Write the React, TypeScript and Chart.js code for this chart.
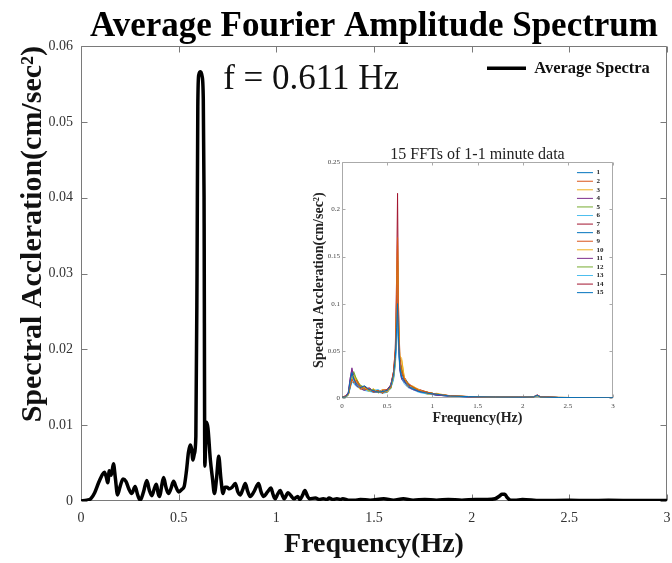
import React, { useEffect, useRef } from 'react';
import { Chart, registerables } from 'chart.js';

Chart.register(...registerables);

const SERIF = '"Liberation Serif", "Times New Roman", serif';

// ---------- main chart data ----------
const chartTitle = 'Average Fourier Amplitude Spectrum';
const seriesLabel = 'Average Spectra';
const xAxisTitle = 'Frequency(Hz)';
const yAxisTitle = 'Spectral Accleration(cm/sec\u00B2)';
const peakLabel = 'f = 0.611 Hz';
const peakLabelFreq = 0.728;
const peakLabelAmp = 0.0543;

const mainXTickLabels = ['0', '0.5', '1', '1.5', '2', '2.5', '3'];
const mainYTickLabels = ['0', '0.01', '0.02', '0.03', '0.04', '0.05', '0.06'];

const avgFreq = [
  0, 0.03, 0.05, 0.07, 0.09, 0.11, 0.12, 0.13, 0.137, 0.145,
  0.155, 0.166, 0.176, 0.187, 0.2, 0.215, 0.23, 0.245, 0.26, 0.277,
  0.29, 0.303, 0.32, 0.337, 0.35, 0.363, 0.375, 0.386, 0.395, 0.403,
  0.413, 0.423, 0.435, 0.448, 0.46, 0.474, 0.487, 0.5, 0.515, 0.528,
  0.54, 0.55, 0.559, 0.566, 0.573, 0.58, 0.588, 0.594, 0.598, 0.603,
  0.612, 0.62, 0.626, 0.63, 0.634, 0.638, 0.643, 0.65, 0.662, 0.673,
  0.683, 0.694, 0.705, 0.716, 0.727, 0.737, 0.747, 0.76, 0.773, 0.79,
  0.803, 0.815, 0.828, 0.841, 0.853, 0.866, 0.885, 0.909, 0.922, 0.935,
  0.955, 0.972, 0.984, 0.994, 1.007, 1.02, 1.03, 1.04, 1.06, 1.075,
  1.09, 1.11, 1.12, 1.135, 1.146, 1.16, 1.17, 1.2, 1.22, 1.24,
  1.26, 1.27, 1.29, 1.31, 1.33, 1.34, 1.37, 1.4, 1.43, 1.48,
  1.55, 1.6, 1.65, 1.7, 1.76, 1.82, 1.88, 1.95, 2.02, 2.08,
  2.12, 2.145, 2.155, 2.17, 2.18, 2.2, 2.22, 2.26, 2.35, 2.5,
  2.6, 2.7, 2.85, 3.0,
];

const avgAmp = [
  0, 0.0001, 0.0003, 0.0011, 0.0024, 0.0035, 0.0038, 0.0031, 0.0024, 0.004,
  0.0034, 0.0049, 0.003, 0.0008, 0.0019, 0.0029, 0.0026, 0.0016, 0.001, 0.0019,
  0.0008, 0.0001, 0.0012, 0.0027, 0.0014, 0.0007, 0.0016, 0.0022, 0.001, 0.0006,
  0.002, 0.0031, 0.0018, 0.001, 0.0016, 0.0026, 0.0018, 0.0012, 0.0015, 0.0019,
  0.004, 0.0064, 0.0074, 0.0069, 0.0054, 0.0062, 0.0085, 0.03, 0.052, 0.0562,
  0.0566, 0.056, 0.053, 0.04, 0.0046, 0.0075, 0.0104, 0.0096, 0.0055, 0.003,
  0.001, 0.003, 0.0059, 0.003, 0.001, 0.0018, 0.0018, 0.0016, 0.0018, 0.0023,
  0.0012, 0.0008, 0.0015, 0.0023, 0.0013, 0.0006, 0.0012, 0.0023, 0.0012, 0.0006,
  0.0012, 0.0017, 0.0008, 0.0003, 0.0009, 0.0014, 0.0008, 0.0003, 0.0011, 0.0007,
  0.0003, 0.0006, 0.0002, 0.0008, 0.0014, 0.0006, 0.0003, 0.0004, 0.0002, 0.0003,
  0.0002, 0.0004, 0.0002, 0.0003, 0.0002, 0.0003, 0.0001, 0.0001, 0.0002, 0.0001,
  0.0003, 0.0001, 0.0003, 0.0001, 0.0002, 0.0001, 0.0002, 0.0001, 0.0002, 0.0002,
  0.0003, 0.0007, 0.0009, 0.0009, 0.0005, 0.0001, 0.0001, 0.0002, 0.00005, 0.0001,
  0.00005, 0.0001, 0.00005, 0.00005,
];

// ---------- inset chart data ----------
const insetTitle = '15 FFTs of 1-1 minute data';
const insetXTickLabels = ['0', '0.5', '1', '1.5', '2', '2.5', '3'];
const insetYTickLabels = ['0', '0.05', '0.1', '0.15', '0.2', '0.25'];
const insetLabels = ['1', '2', '3', '4', '5', '6', '7', '8', '9', '10', '11', '12', '13', '14', '15'];
const insetColors = [
  '#0072BD', '#D95319', '#EDB120', '#7E2F8E', '#77AC30', '#4DBEEE', '#A2142F',
  '#0072BD', '#D95319', '#EDB120', '#7E2F8E', '#77AC30', '#4DBEEE', '#A2142F', '#0072BD',
];

const insetFreq = [
  0, 0.04, 0.07, 0.09, 0.11, 0.13, 0.16, 0.2, 0.25, 0.3,
  0.35, 0.4, 0.45, 0.5, 0.54, 0.57, 0.59, 0.605, 0.615, 0.625,
  0.64, 0.66, 0.69, 0.73, 0.78, 0.85, 0.95, 1.05, 1.2, 1.4,
  1.7, 2.0, 2.12, 2.16, 2.2, 2.4, 2.7, 3.0,
];

const fft1 = [0.001, 0.001, 0.005, 0.018, 0.027, 0.02, 0.015, 0.011, 0.013, 0.009, 0.008, 0.006, 0.007, 0.008, 0.013, 0.024, 0.042, 0.075, 0.1, 0.065, 0.032, 0.022, 0.018, 0.013, 0.01, 0.007, 0.005, 0.004, 0.002, 0.0015, 0.001, 0.0008, 0.0012, 0.0028, 0.001, 0.0005, 0.0004, 0.0003];
const fft2 = [0.001, 0.002, 0.004, 0.012, 0.02, 0.016, 0.019, 0.012, 0.009, 0.01, 0.006, 0.008, 0.005, 0.009, 0.011, 0.028, 0.05, 0.11, 0.17, 0.08, 0.04, 0.03, 0.02, 0.015, 0.012, 0.008, 0.006, 0.004, 0.0025, 0.0014, 0.001, 0.0007, 0.0011, 0.003, 0.0012, 0.0006, 0.0004, 0.0003];
const fft3 = [0.001, 0.001, 0.003, 0.014, 0.022, 0.024, 0.017, 0.009, 0.011, 0.007, 0.01, 0.005, 0.009, 0.006, 0.012, 0.022, 0.038, 0.095, 0.16, 0.09, 0.045, 0.042, 0.022, 0.012, 0.013, 0.009, 0.004, 0.005, 0.002, 0.0016, 0.0009, 0.0008, 0.0013, 0.0025, 0.0009, 0.0005, 0.0003, 0.0003];
const fft4 = [0.001, 0.002, 0.006, 0.02, 0.032, 0.022, 0.013, 0.01, 0.008, 0.011, 0.007, 0.006, 0.008, 0.007, 0.014, 0.026, 0.044, 0.08, 0.12, 0.07, 0.03, 0.02, 0.017, 0.012, 0.009, 0.007, 0.005, 0.003, 0.002, 0.0012, 0.001, 0.0009, 0.0012, 0.0032, 0.0011, 0.0005, 0.0004, 0.0002];
const fft5 = [0.001, 0.001, 0.004, 0.013, 0.021, 0.028, 0.02, 0.014, 0.01, 0.008, 0.009, 0.007, 0.006, 0.008, 0.01, 0.023, 0.04, 0.09, 0.15, 0.075, 0.038, 0.028, 0.021, 0.016, 0.011, 0.008, 0.006, 0.004, 0.0022, 0.0015, 0.0011, 0.0007, 0.001, 0.0027, 0.001, 0.0006, 0.0004, 0.0003];
const fft6 = [0.001, 0.001, 0.005, 0.016, 0.024, 0.018, 0.014, 0.012, 0.009, 0.007, 0.008, 0.009, 0.006, 0.007, 0.011, 0.02, 0.036, 0.065, 0.09, 0.06, 0.03, 0.024, 0.016, 0.013, 0.01, 0.007, 0.004, 0.004, 0.002, 0.0013, 0.001, 0.0008, 0.0012, 0.0026, 0.001, 0.0005, 0.0003, 0.0003];
const fft7 = [0.001, 0.002, 0.004, 0.017, 0.026, 0.021, 0.016, 0.01, 0.012, 0.009, 0.007, 0.008, 0.005, 0.009, 0.013, 0.025, 0.046, 0.085, 0.145, 0.078, 0.036, 0.026, 0.019, 0.014, 0.012, 0.008, 0.005, 0.004, 0.0021, 0.0014, 0.001, 0.0008, 0.0011, 0.0029, 0.0011, 0.0005, 0.0004, 0.0003];
const fft8 = [0.001, 0.001, 0.003, 0.011, 0.019, 0.017, 0.013, 0.011, 0.01, 0.008, 0.006, 0.007, 0.007, 0.006, 0.012, 0.021, 0.039, 0.07, 0.11, 0.066, 0.033, 0.023, 0.018, 0.012, 0.01, 0.007, 0.005, 0.003, 0.002, 0.0012, 0.0009, 0.0007, 0.001, 0.0024, 0.0009, 0.0005, 0.0003, 0.0002];
const fft9 = [0.001, 0.001, 0.005, 0.015, 0.023, 0.02, 0.018, 0.013, 0.011, 0.01, 0.008, 0.006, 0.009, 0.008, 0.013, 0.027, 0.043, 0.082, 0.13, 0.072, 0.037, 0.027, 0.02, 0.015, 0.011, 0.009, 0.006, 0.004, 0.0023, 0.0015, 0.001, 0.0008, 0.0012, 0.0028, 0.001, 0.0006, 0.0004, 0.0003];
const fft10 = [0.001, 0.002, 0.004, 0.013, 0.02, 0.019, 0.021, 0.012, 0.01, 0.009, 0.007, 0.008, 0.006, 0.007, 0.012, 0.024, 0.048, 0.1, 0.165, 0.085, 0.042, 0.04, 0.021, 0.014, 0.012, 0.008, 0.005, 0.004, 0.0021, 0.0014, 0.0011, 0.0008, 0.0011, 0.0026, 0.001, 0.0005, 0.0004, 0.0003];
const fft11 = [0.001, 0.001, 0.006, 0.021, 0.03, 0.023, 0.015, 0.011, 0.009, 0.01, 0.008, 0.007, 0.007, 0.008, 0.012, 0.022, 0.041, 0.07, 0.1, 0.062, 0.031, 0.022, 0.017, 0.013, 0.01, 0.007, 0.005, 0.003, 0.002, 0.0013, 0.001, 0.0008, 0.0012, 0.003, 0.0011, 0.0005, 0.0003, 0.0003];
const fft12 = [0.001, 0.001, 0.004, 0.012, 0.022, 0.026, 0.019, 0.013, 0.012, 0.008, 0.009, 0.006, 0.008, 0.006, 0.011, 0.023, 0.04, 0.088, 0.14, 0.074, 0.036, 0.033, 0.02, 0.015, 0.011, 0.008, 0.006, 0.004, 0.0022, 0.0014, 0.001, 0.0007, 0.0011, 0.0027, 0.001, 0.0006, 0.0004, 0.0003];
const fft13 = [0.001, 0.001, 0.003, 0.01, 0.017, 0.015, 0.012, 0.01, 0.008, 0.007, 0.006, 0.006, 0.005, 0.006, 0.01, 0.019, 0.034, 0.058, 0.08, 0.055, 0.028, 0.02, 0.015, 0.011, 0.009, 0.006, 0.004, 0.003, 0.0018, 0.0012, 0.0009, 0.0007, 0.001, 0.0023, 0.0009, 0.0005, 0.0003, 0.0002];
const fft14 = [0.001, 0.002, 0.005, 0.016, 0.025, 0.02, 0.017, 0.012, 0.011, 0.009, 0.008, 0.007, 0.008, 0.009, 0.014, 0.028, 0.052, 0.13, 0.217, 0.1, 0.045, 0.03, 0.022, 0.016, 0.012, 0.009, 0.006, 0.004, 0.0024, 0.0016, 0.0011, 0.0008, 0.0012, 0.003, 0.0011, 0.0006, 0.0004, 0.0003];
const fft15 = [0.001, 0.001, 0.004, 0.014, 0.023, 0.019, 0.016, 0.011, 0.01, 0.008, 0.007, 0.008, 0.006, 0.007, 0.012, 0.023, 0.041, 0.076, 0.12, 0.068, 0.034, 0.024, 0.018, 0.013, 0.01, 0.007, 0.005, 0.004, 0.002, 0.0013, 0.001, 0.0008, 0.0011, 0.0026, 0.001, 0.0005, 0.0004, 0.0003];

const insetSeries = [fft1, fft2, fft3, fft4, fft5, fft6, fft7, fft8, fft9, fft10, fft11, fft12, fft13, fft14, fft15];

// ---------- plugins ----------
function boxTicksPlugin(tickLen: number, color: string) {
  return {
    id: 'boxTicks',
    beforeDatasetsDraw(chart: any) {
      const { ctx, chartArea: ca, scales } = chart;
      const L = Math.round(ca.left) + 0.5;
      const R = Math.round(ca.right) - 0.5;
      const T = Math.round(ca.top) + 0.5;
      const B = Math.round(ca.bottom) - 0.5;
      ctx.save();
      ctx.strokeStyle = color;
      ctx.lineWidth = 1;
      ctx.beginPath();
      ctx.rect(L, T, R - L, B - T);
      scales.x.ticks.forEach((t: any) => {
        const px = Math.round(scales.x.getPixelForValue(t.value)) + 0.5;
        ctx.moveTo(px, B);
        ctx.lineTo(px, B - tickLen);
        ctx.moveTo(px, T);
        ctx.lineTo(px, T + tickLen);
      });
      scales.y.ticks.forEach((t: any) => {
        const py = Math.round(scales.y.getPixelForValue(t.value)) + 0.5;
        ctx.moveTo(L, py);
        ctx.lineTo(L + tickLen, py);
        ctx.moveTo(R, py);
        ctx.lineTo(R - tickLen, py);
      });
      ctx.stroke();
      ctx.restore();
    },
  };
}

function legendMoverPlugin(offsetFromRight: number, dy: number) {
  return {
    id: 'legendMover',
    afterLayout(chart: any) {
      const lg = chart.legend;
      if (!lg) return;
      const ca = chart.chartArea;
      const w = lg.width;
      lg.left = ca.right - offsetFromRight;
      lg.right = lg.left + w;
      lg.top = ca.top + dy;
      lg.bottom = ca.bottom;
    },
  };
}

const peakLabelPlugin = {
  id: 'peakLabel',
  afterDatasetsDraw(chart: any) {
    const { ctx, scales } = chart;
    ctx.save();
    ctx.font = `35px ${SERIF}`;
    ctx.fillStyle = '#111';
    ctx.textAlign = 'left';
    ctx.textBaseline = 'alphabetic';
    ctx.fillText(peakLabel, scales.x.getPixelForValue(peakLabelFreq), scales.y.getPixelForValue(peakLabelAmp));
    ctx.restore();
  },
};

export default function App() {
  const mainRef = useRef<HTMLCanvasElement>(null);
  const insetRef = useRef<HTMLCanvasElement>(null);

  useEffect(() => {
    if (!mainRef.current || !insetRef.current) return;

    const main = new Chart(mainRef.current, {
      type: 'line',
      data: {
        datasets: [
          {
            label: seriesLabel,
            data: avgFreq.map((f, i) => ({ x: f, y: avgAmp[i] })),
            borderColor: '#000',
            backgroundColor: '#000',
            borderWidth: 3.5,
            pointRadius: 0,
            fill: false,
            cubicInterpolationMode: 'monotone',
          },
        ],
      },
      options: {
        responsive: false,
        animation: false,
        events: [],
        layout: { padding: { left: 0, right: 5, top: 0, bottom: 0 } },
        scales: {
          x: {
            type: 'linear',
            min: 0,
            max: 3,
            grid: { display: false, drawTicks: false },
            border: { display: false },
            ticks: {
              stepSize: 0.5,
              autoSkip: false,
              maxRotation: 0,
              padding: 9,
              color: '#333',
              font: { family: SERIF, size: 14 },
              callback: (_v: any, i: number) => mainXTickLabels[i],
            },
            title: {
              display: true,
              text: xAxisTitle,
              color: '#111',
              font: { family: SERIF, size: 28, weight: 'bold' },
              padding: { top: 0, bottom: 1 },
            },
            afterFit: (s: any) => {
              s.height = 62;
              s.paddingLeft = 0;
              s.paddingRight = 0;
            },
          },
          y: {
            type: 'linear',
            min: 0,
            max: 0.06,
            grid: { display: false, drawTicks: false },
            border: { display: false },
            ticks: {
              stepSize: 0.01,
              autoSkip: false,
              padding: 8,
              color: '#333',
              font: { family: SERIF, size: 14 },
              callback: (_v: any, i: number) => mainYTickLabels[i],
            },
            title: {
              display: true,
              text: yAxisTitle,
              align: 'end',
              color: '#111',
              font: { family: SERIF, size: 30, weight: 'bold' },
              padding: { top: 15, bottom: 0 },
            },
            afterFit: (s: any) => {
              s.width = 81;
            },
          },
        },
        plugins: {
          title: {
            display: true,
            text: chartTitle,
            fullSize: false,
            color: '#000',
            font: { family: SERIF, size: 35, weight: 'bold', lineHeight: 1.1 },
            padding: { top: 8, bottom: -0.5 },
          },
          legend: {
            display: true,
            position: 'chartArea',
            align: 'start',
            labels: {
              usePointStyle: true,
              pointStyle: 'line',
              pointStyleWidth: 39,
              padding: 10,
              color: '#111',
              font: { family: SERIF, size: 16.5, weight: 'bold' },
            },
          },
          tooltip: { enabled: false },
        },
      } as any,
      plugins: [boxTicksPlugin(6, '#7a7a7a'), legendMoverPlugin(190, 4), peakLabelPlugin],
    });

    const inset = new Chart(insetRef.current, {
      type: 'line',
      data: {
        datasets: insetSeries.map((vals, k) => ({
          label: insetLabels[k],
          data: insetFreq.map((f, i) => ({ x: f, y: vals[i] })),
          borderColor: insetColors[k],
          backgroundColor: insetColors[k],
          borderWidth: 1,
          pointRadius: 0,
          fill: false,
        })),
      },
      options: {
        responsive: false,
        animation: false,
        events: [],
        layout: { padding: { left: 0, right: 7, top: 0, bottom: 0 } },
        scales: {
          x: {
            type: 'linear',
            min: 0,
            max: 3,
            grid: { display: false, drawTicks: false },
            border: { display: false },
            ticks: {
              stepSize: 0.5,
              autoSkip: false,
              maxRotation: 0,
              padding: 4,
              color: '#444',
              font: { family: SERIF, size: 7 },
              callback: (_v: any, i: number) => insetXTickLabels[i],
            },
            title: {
              display: true,
              text: xAxisTitle,
              color: '#222',
              font: { family: SERIF, size: 14, weight: 'bold' },
              padding: { top: 0, bottom: 3.6 },
            },
            afterFit: (s: any) => {
              s.height = 32;
              s.paddingLeft = 0;
              s.paddingRight = 0;
            },
          },
          y: {
            type: 'linear',
            min: 0,
            max: 0.25,
            grid: { display: false, drawTicks: false },
            border: { display: false },
            ticks: {
              stepSize: 0.05,
              autoSkip: false,
              padding: 2,
              color: '#444',
              font: { family: SERIF, size: 7 },
              callback: (_v: any, i: number) => insetYTickLabels[i],
            },
            title: {
              display: true,
              text: yAxisTitle,
              color: '#222',
              font: { family: SERIF, size: 14, weight: 'bold' },
              padding: { top: 10.6, bottom: 0 },
            },
            afterFit: (s: any) => {
              s.width = 42;
            },
          },
        },
        plugins: {
          title: {
            display: true,
            text: insetTitle,
            fullSize: false,
            color: '#222',
            font: { family: SERIF, size: 16, weight: 'normal', lineHeight: 0.9 },
            padding: { top: 9.8, bottom: 0 },
          },
          legend: {
            display: true,
            position: 'chartArea',
            align: 'start',
            labels: {
              usePointStyle: true,
              pointStyle: 'line',
              pointStyleWidth: 16,
              padding: 1.57,
              color: '#222',
              font: { family: SERIF, size: 7, weight: 'bold' },
            },
          },
          tooltip: { enabled: false },
        },
      } as any,
      plugins: [boxTicksPlugin(3, '#aaaaaa'), legendMoverPlugin(37.6, 5.4)],
    });

    return () => {
      main.destroy();
      inset.destroy();
    };
  }, []);

  return (
    <div style={{ position: 'fixed', left: 0, top: 0, width: 672, height: 563, background: '#fff' }}>
      <canvas ref={mainRef} width={672} height={563} style={{ position: 'absolute', left: 0, top: 0 }} />
      <canvas ref={insetRef} width={320} height={292} style={{ position: 'absolute', left: 300, top: 138 }} />
    </div>
  );
}
